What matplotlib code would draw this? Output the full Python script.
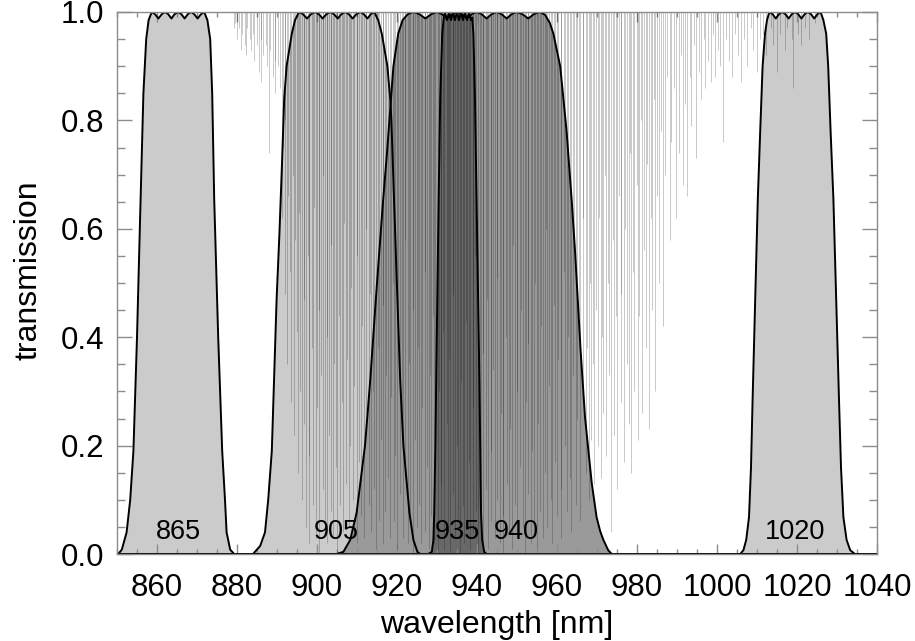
import matplotlib.pyplot as plt
from matplotlib.ticker import MultipleLocator

plt.rcParams["font.family"] = ["Liberation Sans", "DejaVu Sans"]

# filter names and where their labels sit (nm)
filter_names = ["865", "905", "935", "940", "1020"]
label_nm = [865.3, 904.9, 935.0, 949.9, 1019.6]

# filter transmission curves
f865_nm = [850.0, 850.3, 851.2, 852.4, 853.3, 854.1, 855.0, 855.9, 856.6, 857.3, 857.9,
           858.7, 859.5, 860.35, 861.2, 862.0, 862.8, 863.6, 864.4, 865.25,
           866.1, 866.9, 867.7, 868.5, 869.3, 870.15, 871.0, 871.8,
           872.6, 873.3, 873.8, 874.3, 875.3, 876.3, 877.0, 877.4, 878.3, 879.3, 1040.0]
f865_tr = [0.0, 0.0, 0.008, 0.04, 0.10, 0.19, 0.40, 0.655, 0.85, 0.95, 0.985,
           1.0, 0.996, 0.988, 0.996, 1.0, 0.996, 0.988, 0.996, 1.0,
           0.996, 0.988, 0.996, 1.0, 0.996, 0.988, 0.996, 1.0,
           0.985, 0.95, 0.85, 0.655, 0.40, 0.19, 0.10, 0.04, 0.008, 0.0, 0.0]

f905_nm = [850.0, 884.0, 885.8, 887.0, 887.8, 888.7, 889.9, 890.6, 891.2, 891.8, 892.4, 893.7, 894.5,
           895.5, 896.5, 897.5, 898.5, 899.5, 900.45, 901.4, 902.35, 903.3, 904.25, 905.2, 906.1,
           907.0, 907.95, 908.9, 909.85, 910.8, 911.7, 912.6, 913.45, 914.3,
           915.3, 916.2, 917.6, 918.3, 918.6, 919.5, 920.8, 921.6, 923.1, 924.1, 925.1, 925.8, 1040.0]
f905_tr = [0.0, 0.0, 0.015, 0.04, 0.10, 0.19, 0.47, 0.59, 0.71, 0.84, 0.90, 0.96, 0.985,
           1.0, 0.996, 0.988, 0.996, 1.0, 0.996, 0.988, 0.996, 1.0, 0.996, 0.988, 0.996,
           1.0, 0.996, 0.988, 0.996, 1.0, 0.996, 0.988, 0.996, 1.0,
           0.985, 0.96, 0.90, 0.84, 0.80, 0.60, 0.32, 0.20, 0.076, 0.026, 0.004, 0.0, 0.0]

f940_nm = [850.0, 904.9, 906.6, 908.3, 909.9, 912.0, 913.3, 915.0, 916.5, 917.5, 918.1, 918.5, 919.1,
           920.3, 921.4, 922.7, 924.1, 925.6, 927.1, 928.55, 930.0, 931.25, 932.5, 933.75, 935.0,
           936.25, 937.5, 938.7, 939.9, 941.15, 942.4, 943.65, 944.9, 946.15, 947.4, 948.65,
           949.9, 951.35, 952.8, 954.2, 955.6, 957.0, 958.2, 959.1, 960.8, 962.4, 963.7, 964.5,
           965.9, 967.0, 968.0, 968.7, 969.9, 970.8, 971.6, 972.8, 973.7, 1040.0]
f940_tr = [0.0, 0.0, 0.004, 0.026, 0.076, 0.20, 0.32, 0.50, 0.65, 0.74, 0.80, 0.84, 0.90,
           0.96, 0.985, 0.996, 1.0, 0.996, 0.988, 0.996, 1.0, 0.996, 0.988, 0.996, 1.0,
           0.996, 0.988, 0.996, 1.0, 0.996, 0.988, 0.996, 1.0, 0.996, 0.988, 0.996,
           1.0, 0.996, 0.988, 0.996, 1.0, 0.995, 0.98, 0.96, 0.90, 0.78, 0.65, 0.56,
           0.376, 0.253, 0.18, 0.13, 0.068, 0.042, 0.026, 0.007, 0.0, 0.0]

f935_nm = [850.0, 927.8, 928.7, 929.1, 929.3, 929.6, 929.8, 930.4, 930.8, 931.3, 931.7,
           932.0, 932.5, 933.0, 933.5, 934.0, 934.5, 935.0, 935.5, 936.0, 936.5, 937.0, 937.5, 938.0, 938.5,
           938.8, 939.1, 939.5, 939.9, 940.6, 940.8, 941.0, 941.3, 941.8, 942.4, 1040.0]
f935_tr = [0.0, 0.0, 0.004, 0.026, 0.076, 0.20, 0.32, 0.65, 0.84, 0.96, 0.99,
           1.0, 0.985, 1.0, 0.985, 1.0, 0.985, 1.0, 0.985, 1.0, 0.985, 1.0, 0.985, 1.0, 0.985,
           0.99, 0.96, 0.84, 0.65, 0.32, 0.20, 0.076, 0.026, 0.004, 0.0, 0.0]

f1020_nm = [850.0, 1005.8, 1006.6, 1007.3, 1008.0, 1008.5, 1008.9, 1010.2, 1010.8, 1011.4, 1012.0, 1012.5,
            1013.1, 1013.9, 1014.7, 1015.5, 1016.3, 1017.1, 1017.9, 1018.7, 1019.5,
            1020.3, 1021.1, 1021.9, 1022.7, 1023.5, 1024.3, 1025.1, 1025.9,
            1026.6, 1027.3, 1027.8, 1028.4, 1029.1, 1030.5, 1031.0, 1031.6, 1032.4, 1033.3, 1034.5, 1040.0]
f1020_tr = [0.0, 0.0, 0.007, 0.026, 0.068, 0.16, 0.285, 0.655, 0.78, 0.90, 0.96, 0.985,
            1.0, 0.996, 0.988, 0.996, 1.0, 0.996, 0.988, 0.996, 1.0,
            0.996, 0.988, 0.996, 1.0, 0.996, 0.988, 0.996, 1.0,
            0.985, 0.96, 0.90, 0.78, 0.655, 0.285, 0.16, 0.068, 0.026, 0.007, 0.0, 0.0]

# water vapour absorption lines: position (nm) and minimum transmission
h2o_nm = [
    879.2, 879.6, 880.1, 880.4, 881.0, 881.3, 881.9, 882.2, 882.5, 883.2,
    883.5, 884.1, 884.3, 885.0, 885.4, 885.9, 886.1, 886.6, 887.2, 887.5,
    888.0, 888.3, 888.9, 889.4, 889.6, 890.3, 890.8,
    891.2, 891.5, 891.9, 892.0, 892.6, 892.8, 893.3, 893.4, 893.9, 894.3,
    894.4, 894.9, 895.3, 895.6, 895.8, 896.3, 896.7, 896.8, 897.2, 897.7,
    897.9, 898.1, 898.7, 899.0, 899.2, 899.7, 900.0, 900.4, 900.6, 901.1,
    901.5, 901.6, 902.1, 902.4, 902.5, 903.0, 903.4, 903.5, 904.1, 904.3,
    904.8, 905.0, 905.6, 905.7, 906.2, 906.6, 906.8, 907.3, 907.5, 908.0,
    908.3, 908.4, 909.0, 909.3, 909.9, 910.1, 910.4, 911.0, 911.2, 911.7,
    912.2, 912.3, 912.9, 913.3, 913.5, 914.1, 914.3, 914.8, 915.2, 915.4,
    915.9, 916.4, 916.5, 917.1, 917.3, 917.8,
    918.2, 918.5, 919.0, 919.3, 919.5, 920.1, 920.3, 920.8, 921.2, 921.4,
    922.0, 922.1, 922.7, 923.1, 923.3, 923.9, 924.0, 924.6, 924.9, 925.3,
    925.5, 926.1, 926.3, 926.9, 927.0, 927.6, 927.9, 928.3, 928.4, 929.0,
    929.3, 929.6, 930.2, 930.4, 930.9, 931.1, 931.6, 931.8, 932.4, 932.7,
    933.1, 933.3, 933.9, 934.1, 934.5, 935.0, 935.2, 935.8, 936.0, 936.6,
    936.7, 937.3, 937.5, 938.1, 938.2, 938.9, 939.0, 939.6, 939.8, 940.3,
    940.7, 940.9, 941.5, 941.6, 942.2, 942.5, 942.8, 943.4, 943.6, 944.1,
    944.4, 944.9, 945.1, 945.7, 945.9, 946.5, 946.6, 947.2, 947.4, 948.0,
    948.2, 948.8, 949.1, 949.4, 950.0, 950.1, 950.7, 951.0, 951.4, 951.9,
    952.2, 952.7, 952.8, 953.4, 953.7, 954.2, 954.4, 955.0, 955.2, 955.8,
    956.1, 956.5, 956.9, 957.3, 957.6, 958.0, 958.4, 958.7, 959.3, 959.5,
    960.1, 960.3, 960.9, 961.1, 961.7, 961.9, 962.5, 962.7, 963.2, 963.6,
    964.1, 964.3, 964.8, 965.1, 965.6, 965.8, 966.4, 966.6, 967.2, 967.4,
    967.9, 968.3, 968.5, 969.0, 969.3,
    969.8, 970.2, 970.4, 970.9, 971.3, 971.5, 972.0, 972.3, 972.8, 973.0,
    973.6, 973.9, 974.2, 974.8, 975.0, 975.5, 975.9, 976.1, 976.7, 977.0,
    977.4, 977.9, 978.2, 978.6, 979.1, 979.3, 979.9, 980.2, 980.6, 981.1,
    981.3, 981.8, 982.3, 982.5, 983.0, 983.5, 983.7, 984.3, 984.6, 985.1,
    985.5,
    986.0, 986.6, 987.1, 987.5, 988.2, 988.5, 989.3, 989.7, 990.4, 990.9,
    991.4, 992.1, 992.5, 993.2, 993.6, 994.3, 994.8, 995.5, 995.9, 996.7,
    997.1, 997.8, 998.4, 999.0, 999.5, 1000.3, 1000.8, 1001.5, 1002.3, 1002.9,
    1003.7, 1004.4, 1005.2, 1005.9, 1006.8, 1007.5, 1008.4, 1009.1, 1009.9, 1010.7,
    1011.6, 1012.3, 1013.4, 1014.1, 1015.0, 1015.8, 1016.9, 1017.6, 1018.7, 1019.1,
    1020.2, 1021.1, 1022.1, 1023.0, 1024.4,
]
h2o_min = [
    0.97, 0.98, 0.95, 0.97, 0.93, 0.96, 0.94, 0.92, 0.97, 0.95,
    0.93, 0.96, 0.91, 0.94, 0.89, 0.95, 0.87, 0.92, 0.94, 0.90,
    0.74, 0.93, 0.88, 0.91, 0.85, 0.90, 0.86,
    0.62, 0.75, 0.48, 0.80, 0.35, 0.66, 0.52, 0.28, 0.70, 0.22,
    0.58, 0.41, 0.15, 0.63, 0.30, 0.10, 0.47, 0.24, 0.05, 0.55,
    0.18, 0.02, 0.38, 0.09, 0.64, 0.03, 0.27, 0.45, 0.00, 0.33,
    0.12, 0.70, 0.06, 0.40, 0.02, 0.22, 0.57, 0.08, 0.03, 0.35,
    0.16, 0.00, 0.44, 0.09, 0.28, 0.04, 0.61, 0.13, 0.36, 0.05,
    0.20, 0.49, 0.10, 0.31, 0.02, 0.55, 0.17, 0.07, 0.42, 0.03,
    0.26, 0.60, 0.09, 0.48, 0.04, 0.30, 0.12, 0.01, 0.38, 0.06,
    0.21, 0.02, 0.46, 0.08, 0.33, 0.14,
    0.03, 0.29, 0.50, 0.06, 0.18, 0.01, 0.40, 0.11, 0.25, 0.03,
    0.58, 0.14, 0.02, 0.35, 0.07, 0.45, 0.00, 0.21, 0.05, 0.38,
    0.09, 0.02, 0.27, 0.52, 0.04, 0.16, 0.01, 0.33, 0.07, 0.44,
    0.02, 0.19, 0.00, 0.30, 0.06, 0.13, 0.41, 0.01, 0.24, 0.04,
    0.36, 0.00, 0.11, 0.48, 0.03, 0.20, 0.06, 0.00, 0.32, 0.09,
    0.02, 0.43, 0.05, 0.17, 0.01, 0.27, 0.04, 0.55, 0.08, 0.00,
    0.22, 0.05, 0.37, 0.02, 0.12, 0.47, 0.01, 0.19, 0.06, 0.34,
    0.03, 0.10, 0.51, 0.02, 0.26, 0.07, 0.00, 0.40, 0.13, 0.04,
    0.23, 0.01, 0.57, 0.09, 0.30, 0.03, 0.16, 0.45, 0.05, 0.00,
    0.28, 0.11, 0.39, 0.02, 0.19, 0.06, 0.50, 0.01, 0.24, 0.08,
    0.42, 0.03, 0.15, 0.60, 0.05, 0.31, 0.10, 0.02, 0.46, 0.17,
    0.07, 0.36, 0.12, 0.03, 0.52, 0.20, 0.08, 0.40, 0.14, 0.04,
    0.33, 0.58, 0.09, 0.25, 0.44, 0.06, 0.30, 0.62, 0.15, 0.38,
    0.10, 0.50, 0.21, 0.35, 0.13,
    0.45, 0.20, 0.62, 0.14, 0.40, 0.26, 0.70, 0.18, 0.50, 0.33,
    0.04, 0.58, 0.22, 0.44, 0.12, 0.66, 0.28, 0.48, 0.17, 0.60,
    0.35, 0.24, 0.74, 0.15, 0.52, 0.30, 0.68, 0.21, 0.44, 0.80,
    0.26, 0.56, 0.38, 0.72, 0.23, 0.62, 0.45, 0.84, 0.30, 0.66,
    0.50,
    0.78, 0.42, 0.70, 0.88, 0.58, 0.76, 0.86, 0.62, 0.74, 0.92,
    0.68, 0.83, 0.66, 0.88, 0.79, 0.94, 0.73, 0.89, 0.84, 0.95,
    0.86, 0.91, 0.87, 0.96, 0.88, 0.93, 0.90, 0.76, 0.95, 0.91,
    0.88, 0.96, 0.92, 0.87, 0.95, 0.90, 0.97, 0.93, 0.89, 0.95,
    0.96, 0.92, 0.97, 0.94, 0.89, 0.96, 0.93, 0.97, 0.95, 0.86,
    0.96, 0.94, 0.97, 0.95, 0.98,
]
assert len(h2o_nm) == len(h2o_min)

fig = plt.figure(figsize=(9.15, 6.41), dpi=100)
ax = fig.add_axes([117 / 915, 87 / 641, 760 / 915, 542 / 641])

curves = [
    (f865_nm, f865_tr, "#cbcbcb"),
    (f905_nm, f905_tr, "#cbcbcb"),
    (f940_nm, f940_tr, "#9a9a9a"),
    (f935_nm, f935_tr, "#686868"),
    (f1020_nm, f1020_tr, "#cbcbcb"),
]
for nm, tr, fc in curves:
    ax.fill_between(nm, tr, 0, facecolor=fc, edgecolor="none", zorder=1)

ax.vlines(h2o_nm, h2o_min, 1.0, colors="black", alpha=0.27, linewidth=0.55, zorder=2)

for nm, tr, fc in curves:
    ax.plot(nm, tr, color="black", linewidth=1.4, solid_joinstyle="round", zorder=3)

for name, x in zip(filter_names, label_nm):
    ax.text(x, 0.027, name, ha="center", va="baseline", fontsize=19.5, zorder=4)

ax.set_xlim(850, 1040)
ax.set_ylim(0, 1)
ax.xaxis.set_major_locator(MultipleLocator(20))
ax.xaxis.set_minor_locator(MultipleLocator(5))
ax.yaxis.set_major_locator(MultipleLocator(0.2))
ax.yaxis.set_minor_locator(MultipleLocator(0.05))
ax.yaxis.set_major_formatter(lambda v, p: f"{v:.1f}")

spine_col = "#8c8c8c"
for s in ax.spines.values():
    s.set_color(spine_col)
    s.set_linewidth(1.0)
    s.set_zorder(5)

ax.tick_params(which="both", direction="in", top=True, right=True, color=spine_col,
               labelsize=22.5, width=1.0)
ax.tick_params(axis="x", which="major", length=7, pad=13.5)
ax.tick_params(axis="x", which="minor", length=3.5)
ax.tick_params(axis="y", which="major", length=10.5, pad=9)
ax.tick_params(axis="y", which="minor", length=5.5)

ax.set_xlabel("wavelength [nm]", fontsize=23, labelpad=5)
ax.set_ylabel("transmission", fontsize=23)
ax.yaxis.set_label_coords(-0.097, 0.524)

fig.savefig("out.png", dpi=100)
